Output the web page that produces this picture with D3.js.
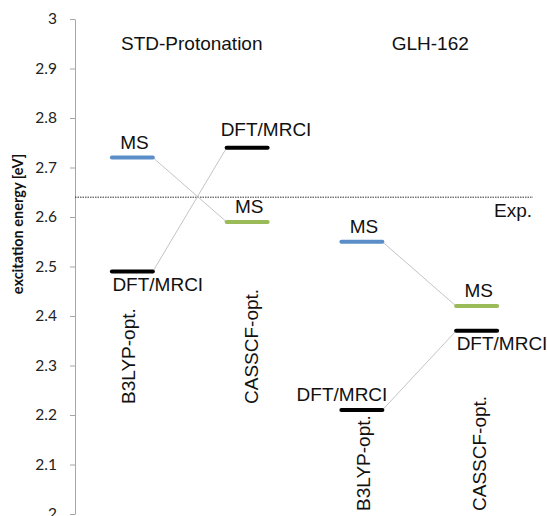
<!DOCTYPE html>
<html>
<head>
<meta charset="utf-8">
<script src="https://cdn.jsdelivr.net/npm/d3@7"></script>
<style>
  html, body { margin: 0; padding: 0; background: #fff; }
  svg { display: block; }
</style>
</head>
<body>
<svg id="chart" width="547" height="516"></svg>
<script>
// ---- data ----
const groups = ["STD-Protonation", "GLH-162"];
const geometries = ["B3LYP-opt.", "CASSCF-opt."];
const categories = ["STD B3LYP", "STD CASSCF", "GLH B3LYP", "GLH CASSCF"];
const msValues = [2.72, 2.59, 2.55, 2.42];
const dftValues = [2.49, 2.74, 2.21, 2.37];
const expValue = 2.64;
const yTicks = [2, 2.1, 2.2, 2.3, 2.4, 2.5, 2.6, 2.7, 2.8, 2.9, 3];
const msLabel = "MS";
const dftLabel = "DFT/MRCI";
const expLabel = "Exp.";
const yTitle = "excitation energy [eV]";

// ---- layout / style ----
const svg = d3.select("#chart");
const labelFont = "'Liberation Sans', Arial, sans-serif";
const tickFont = "Lato, 'Open Sans', sans-serif";
const fs = 19;
const msColors = ["#5b8ec8", "#9bbb59"];
const barW = 41;
const dftPlacement = ["below", "above", "above", "below"];
const geoDx = [3, 11, 8, 9];
const geoStartY = [404, 511];
const titleDx = [2, 11];

const y = d3.scaleLinear().domain([2, 3]).range([514, 19]);
const x = d3.scaleBand().domain(categories).range([75, 534]).paddingInner(0).paddingOuter(0);
const cx = c => x(c) + x.bandwidth() / 2;

// axis
const axis = d3.axisLeft(y).tickValues(yTicks).tickSize(5).tickSizeOuter(0).tickPadding(13)
  .tickFormat(d3.format("~g"));
const gA = svg.append("g").attr("transform", "translate(75,0)").call(axis);
gA.select(".domain").attr("stroke", "#a6a6a6");
gA.selectAll(".tick line").attr("stroke", "#a6a6a6");
gA.selectAll(".tick text").attr("font-family", tickFont).attr("font-size", 15.5).attr("fill", "#222");

// axis title
svg.append("text")
  .attr("transform", `translate(23,224) rotate(-90)`)
  .attr("text-anchor", "middle")
  .attr("font-family", tickFont)
  .attr("font-weight", "bold")
  .attr("font-size", 14.5)
  .attr("fill", "#111")
  .text(yTitle);

// experimental line
svg.append("line")
  .attr("x1", 75).attr("x2", 533)
  .attr("y1", y(expValue)).attr("y2", y(expValue))
  .attr("stroke", "#333").attr("stroke-width", 1).attr("stroke-dasharray", "1.5,1");
svg.append("text")
  .attr("x", 532).attr("y", y(expValue) + 19.5)
  .attr("text-anchor", "end")
  .attr("font-family", labelFont).attr("font-size", fs).attr("fill", "#111")
  .text(expLabel);

// group titles
groups.forEach((g, i) => {
  const c = (cx(categories[2 * i]) + cx(categories[2 * i + 1])) / 2 + titleDx[i];
  svg.append("text")
    .attr("x", c).attr("y", 50)
    .attr("text-anchor", "middle")
    .attr("font-family", labelFont).attr("font-size", fs).attr("fill", "#111")
    .text(g);
});

// connector lines
const conn = svg.append("g");
[0, 1].forEach(gi => {
  const a = categories[2 * gi], b = categories[2 * gi + 1];
  [msValues, dftValues].forEach(vals => {
    conn.append("line")
      .attr("x1", cx(a) + barW / 2).attr("y1", y(vals[2 * gi]))
      .attr("x2", cx(b) - barW / 2).attr("y2", y(vals[2 * gi + 1]))
      .attr("stroke", "#bdbdbd").attr("stroke-width", 0.9);
  });
});

// MS bars
svg.append("g").selectAll("line").data(categories).join("line")
  .attr("x1", d => cx(d) - barW / 2).attr("x2", d => cx(d) + barW / 2)
  .attr("y1", (d, i) => y(msValues[i])).attr("y2", (d, i) => y(msValues[i]))
  .attr("stroke", (d, i) => msColors[i % 2]).attr("stroke-width", 4).attr("stroke-linecap", "round");

// DFT bars
svg.append("g").selectAll("line").data(categories).join("line")
  .attr("x1", d => cx(d) - barW / 2).attr("x2", d => cx(d) + barW / 2)
  .attr("y1", (d, i) => y(dftValues[i])).attr("y2", (d, i) => y(dftValues[i]))
  .attr("stroke", "#000").attr("stroke-width", 4).attr("stroke-linecap", "round");

// MS labels
svg.append("g").selectAll("text").data(categories).join("text")
  .attr("x", d => cx(d) + 2)
  .attr("y", (d, i) => y(msValues[i]) - 9)
  .attr("text-anchor", "middle")
  .attr("font-family", labelFont).attr("font-size", fs).attr("fill", "#111")
  .text(msLabel);

// DFT labels
svg.append("g").selectAll("text").data(categories).join("text")
  .each(function (d, i) {
    const t = d3.select(this);
    const yy = y(dftValues[i]);
    const pos = dftPlacement[i];
    if (pos === "below") {
      t.attr("x", cx(d) - barW / 2 + 0.5).attr("y", yy + 19.5).attr("text-anchor", "start");
    } else if (i % 2 === 1) {
      t.attr("x", cx(d) - barW / 2 - 6).attr("y", yy - 11.5).attr("text-anchor", "start");
    } else {
      t.attr("x", cx(d) + barW / 2 + 5).attr("y", yy - 9.5).attr("text-anchor", "end");
    }
  })
  .attr("font-family", labelFont).attr("font-size", fs).attr("fill", "#111")
  .text(dftLabel);

// geometry labels (rotated)
svg.append("g").selectAll("text").data(categories).join("text")
  .attr("transform", (d, i) => `translate(${cx(d) + geoDx[i]},${geoStartY[Math.floor(i / 2)]}) rotate(-90)`)
  .attr("text-anchor", "start")
  .attr("font-family", labelFont).attr("font-size", fs).attr("fill", "#111")
  .text((d, i) => geometries[i % 2]);
</script>
</body>
</html>
